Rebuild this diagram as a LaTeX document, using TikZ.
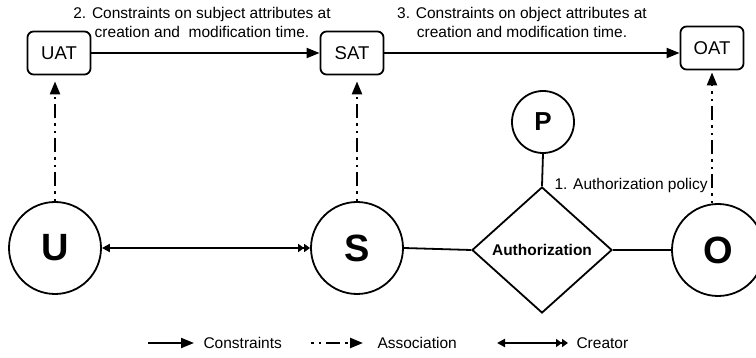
\documentclass[tikz,border=0pt]{standalone}
\usepackage{fontspec}
\setmainfont{Liberation Sans}
\usetikzlibrary{arrows.meta,shapes.geometric}
\begin{document}
\begin{tikzpicture}[x=1pt,y=-1pt,
  every node/.style={font=\fontsize{15.5}{19}\selectfont},
  attrbox/.style={draw,rounded corners=6pt,line width=1.8pt,minimum width=63pt,
    minimum height=43pt,inner sep=0pt,font=\fontsize{18.5}{20}\selectfont},
  entity/.style={circle,draw,line width=1.8pt,minimum size=92pt,inner sep=0pt,
    font=\bfseries\fontsize{38}{40}\selectfont},
  policy/.style={circle,draw,line width=1.8pt,minimum size=62pt,inner sep=0pt,
    font=\bfseries\fontsize{26}{28}\selectfont},
  relation/.style={diamond,draw,line width=1.8pt,minimum width=140pt,
    minimum height=126pt,inner sep=0pt,font=\bfseries\fontsize{15.5}{18}\selectfont},
  caption/.style={align=center,font=\fontsize{15.5}{19}\selectfont},
  con/.style={line width=2pt,-{Triangle[length=13pt,width=10pt]}},
  assoc/.style={line width=2.4pt,dash pattern=on 2.5pt off 5pt on 2.5pt off 5pt on 14pt off 5pt,
    -{Triangle[length=13pt,width=10pt]}},
  creator/.style={line width=2pt,
    {Triangle[length=8pt,width=8pt]}-{Triangle[length=6pt,width=8pt]Triangle[length=6pt,width=8pt]}},
  link/.style={line width=1.8pt},
]
\useasboundingbox (0,0) rectangle (756,358);

% attribute boxes
\node[attrbox] (UAT) at (59,53) {UAT};
\node[attrbox] (SAT) at (352,53) {SAT};
\node[attrbox] (OAT) at (712,48) {OAT};

% entities
\node[entity] (U) at (55,248) {U};
\node[entity] (S) at (357,248) {S};
\node[entity] (O) at (718,250) {O};
\node[policy] (P) at (543,122) {P};
\node[relation] (A) at (542,250) {Authorization};

% captions
\node[caption] (c2) at (202,22) {2. Constraints on subject attributes at\\creation and~ modification time.};
\node[caption] (c3) at (522,22) {3. Constraints on object attributes at\\creation and modification time.};
\node[anchor=west] (c1) at (551,185) {1. Authorization policy};

% constraints between attribute sets
\draw[con] (UAT.east) -- (SAT.west);
\draw[con] (SAT.east) -- (SAT.east -| OAT.west);

% associations
\draw[assoc,shorten >=6pt] (U.north) -- (U.north |- UAT.south);
\draw[assoc,shorten >=6pt] (S.north) -- (S.north |- SAT.south);
\draw[assoc,shorten >=2pt] (O.north -| OAT.south) -- (OAT.south);

% creator
\draw[creator] (U.east) -- (S.west);

% authorization links
\draw[link] (P.south) -- (A.north);
\draw[link] (S.east) -- (A.west);
\draw[link] (A.east) -- (A.east -| O.west);

% legend
\coordinate (l1a) at (148,343); \coordinate (l1b) at (194,343);
\draw[con] (l1a) -- (l1b);
\node[anchor=west] (l1t) at (200,343) {Constraints};
\coordinate (l2a) at (311,343); \coordinate (l2b) at (363,343);
\draw[assoc] (l2a) -- (l2b);
\node[anchor=west] (l2t) at (374,343) {Association};
\coordinate (l3a) at (497,343); \coordinate (l3b) at (568,343);
\draw[creator] (l3a) -- (l3b);
\node[anchor=west] (l3t) at (573,343) {Creator};
\end{tikzpicture}
\end{document}
